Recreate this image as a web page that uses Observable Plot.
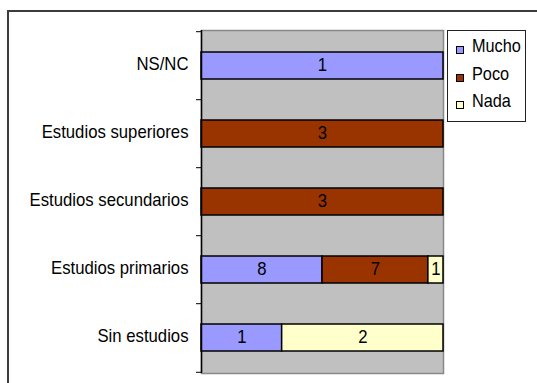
<!DOCTYPE html>
<html>
<head>
<meta charset="utf-8">
<script src="https://cdn.jsdelivr.net/npm/d3@7"></script>
<script src="https://cdn.jsdelivr.net/npm/@observablehq/plot@0.6"></script>
<style>
  html, body { margin: 0; padding: 0; background: #fff; }
  #wrap { position: relative; width: 537px; height: 383px; overflow: hidden; font-family: "Liberation Sans", Arial, sans-serif; }
  #outer { position: absolute; left: 7px; top: 10px; width: 620px; height: 500px; border: 2px solid #3c3c3c; box-sizing: border-box; }
  #chart { position: absolute; left: 0; top: 0; }
  #legend { position: absolute; left: 447px; top: 30px; width: 79px; height: 92px; border: 1px solid #222; box-sizing: border-box; background: #fff; }
  .row { position: absolute; left: 0; height: 20px; width: 77px; }
  .sw { position: absolute; left: 8px; top: 10px; width: 8px; height: 8px; border: 1px solid #000; box-sizing: border-box; }
  .lab { position: absolute; left: 24px; top: 0; font-size: 18.5px; line-height: 20px; color: #000; white-space: nowrap; transform: scaleX(0.88); transform-origin: left center; }
</style>
</head>
<body>
<div id="wrap">
  <div id="outer"></div>
  <div id="chart"></div>
  <div id="legend"></div>
</div>
<script>
const categories = ["NS/NC", "Estudios superiores", "Estudios secundarios", "Estudios primarios", "Sin estudios"];
const series = ["Mucho", "Poco", "Nada"];
const colors = ["#9999FF", "#993300", "#FFFFCC"];
const mucho = [1, 0, 0, 8, 1];
const poco  = [0, 3, 3, 7, 0];
const nada  = [0, 0, 0, 1, 2];

const values = [mucho, poco, nada];
const data = [];
categories.forEach((c, i) => {
  series.forEach((s, j) => {
    const v = values[j][i];
    if (v > 0) data.push({cat: c, series: s, value: v});
  });
});

const W = 537, H = 383;
const mL = 201, mR = 94, mT = 30, mB = 10;
const step = (H - mT - mB) / categories.length;
const pin = 0.606;
const FS = 19;

const chart = Plot.plot({
  width: W, height: H,
  marginLeft: mL, marginRight: mR, marginTop: mT, marginBottom: mB,
  style: {fontFamily: '"Liberation Sans", Arial, sans-serif', color: "#000", background: "transparent"},
  x: {axis: null, domain: [0, 1]},
  y: {domain: categories, axis: null, paddingInner: pin, paddingOuter: pin / 2},
  color: {domain: series, range: colors},
  marks: [
    Plot.frame({fill: "#C0C0C0", stroke: "#888", strokeWidth: 1.5}),
    Plot.barX(data, Plot.stackX({x: "value", y: "cat", fill: "series", order: series, offset: "normalize", stroke: "#000", strokeWidth: 1.5})),
    Plot.text(data, Plot.stackX({x: "value", y: "cat", z: "series", order: series, offset: "normalize", text: d => String(d.value), fontSize: FS, fill: "#000", dy: -1})),
    Plot.ruleX([0], {stroke: "#000", strokeWidth: 1.5}),
    Plot.axisY({label: null, tickSize: 0, tickPadding: 13, fontSize: FS, dy: -2.5, fill: "#000"}),
    Plot.axisY({label: null, tickSize: 5, tickFormat: () => "", dy: -step / 2, stroke: "#000"}),
    Plot.axisY({label: null, ticks: [categories[categories.length - 1]], tickSize: 5, tickFormat: () => "", dy: step / 2, stroke: "#000"})
  ]
});
document.getElementById("chart").appendChild(chart);

// condense text horizontally to match the reference's narrow lettering
d3.select(chart).selectAll("text").each(function() {
  if (!this.textContent) return;
  const len = this.getComputedTextLength();
  if (len > 0) {
    this.setAttribute("textLength", (len * 0.88).toFixed(2));
    this.setAttribute("lengthAdjust", "spacingAndGlyphs");
  }
});

const legend = document.getElementById("legend");
series.forEach((s, i) => {
  const row = document.createElement("div");
  row.className = "row";
  row.style.top = (5 + i * 27.5) + "px";
  const sw = document.createElement("div");
  sw.className = "sw";
  sw.style.background = colors[i];
  const lab = document.createElement("div");
  lab.className = "lab";
  lab.textContent = s;
  row.appendChild(sw);
  row.appendChild(lab);
  legend.appendChild(row);
});
</script>
</body>
</html>
